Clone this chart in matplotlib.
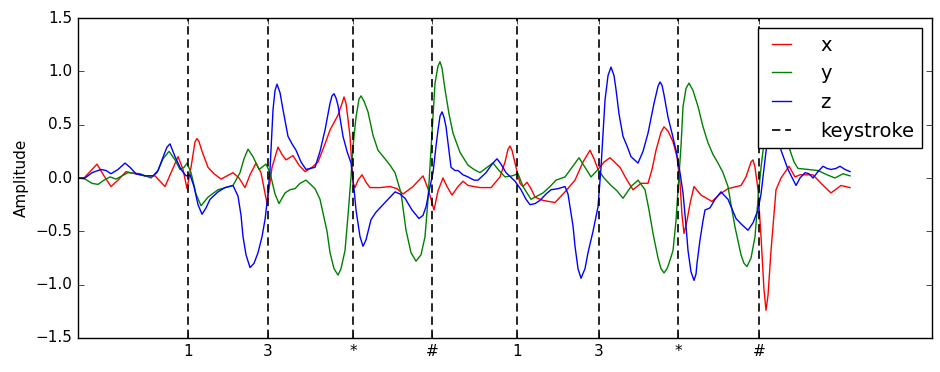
import numpy as np
import matplotlib
matplotlib.use('Agg')
import matplotlib.pyplot as plt

plt.style.use('classic')
plt.rcParams['font.size'] = 11

# sample index of each keystroke and the key that was pressed
key_times = [110, 190, 275, 354, 439, 521, 600, 681]
key_labels = ['1', '3', '*', '#', '1', '3', '*', '#']

# accelerometer traces, (sample index, amplitude)
x_pts = [(0, 0), (6, 0), (12, 0.06), (19, 0.13), (26, 0.02), (33, -0.08), (40, -0.02), (48, 0.06),
         (57, 0.04), (67, 0.02), (77, 0.02), (82, -0.03), (87, -0.08), (93, 0.05), (100, 0.2),
         (105, 0.08), (109, -0.1), (113, 0.1), (117, 0.34), (119, 0.37), (121, 0.34), (124, 0.25),
         (130, 0.1), (136, 0.04),
         (143, -0.01), (149, 0.02), (155, 0.05), (161, 0.0), (167, -0.09), (172, 0.03), (178, 0.14),
         (183, 0.05), (189, -0.24), (194, 0.1), (200, 0.29), (204, 0.22), (208, 0.17), (215, 0.21),
         (221, 0.12), (227, 0.06), (234, 0.1), (240, 0.15), (247, 0.32), (252, 0.45), (260, 0.59),
         (264, 0.7), (266, 0.76), (268, 0.7), (270, 0.55), (272, 0.39), (275, -0.05), (277, -0.09),
         (280, -0.02), (284, 0.03),
         (288, -0.04), (292, -0.09), (302, -0.09), (312, -0.08), (319, -0.1), (325, -0.15),
         (335, -0.08), (345, 0.02), (350, -0.1), (356, -0.3), (360, -0.12), (365, 0.0), (369, -0.08),
         (374, -0.16), (380, -0.08), (385, -0.03), (390, -0.07), (402, -0.09), (413, -0.09),
         (422, 0.01), (427, 0.15), (430, 0.27), (432, 0.3), (434, 0.26), (437, 0.14), (442, -0.05),
         (445, -0.08), (449, -0.04),
         (453, -0.1), (457, -0.18), (465, -0.21), (477, -0.23), (487, -0.13), (497, -0.02),
         (505, 0.15), (512, 0.26), (516, 0.18), (520, 0.08), (526, 0.15), (532, 0.19), (542, 0.1),
         (549, -0.02), (555, -0.11), (563, -0.05), (570, -0.05), (574, 0.08), (578, 0.26),
         (583, 0.43), (586, 0.48), (590, 0.44), (595, 0.34), (599, 0.2), (602, -0.05), (604, -0.35),
         (606, -0.52), (609, -0.4), (612, -0.24),
         (616, -0.08), (623, -0.16), (634, -0.22), (642, -0.15), (650, -0.1), (663, -0.07),
         (668, 0.01), (673, 0.15), (675, 0.17), (677, 0.1), (680, -0.11), (683, -0.55), (686, -1.05),
         (688, -1.24), (690, -1.1), (693, -0.68),
         (698, -0.11), (703, 0.0), (711, 0.11), (717, 0.01), (722, 0.03), (735, 0.03), (743, -0.05),
         (753, -0.14), (763, -0.07), (772, -0.09)]

y_pts = [(0, 0), (7, -0.01), (14, -0.05), (20, -0.06), (26, -0.02), (32, 0.01), (38, -0.01),
         (44, 0.02), (50, 0.05), (62, 0.04), (73, 0.0), (79, 0.05), (85, 0.18), (91, 0.25),
         (97, 0.17), (102, 0.08), (106, 0.1), (109, 0.14), (113, 0.05), (118, -0.15), (123, -0.26),
         (130, -0.18), (140, -0.11), (155, -0.07), (162, 0.05), (166, 0.18), (170, 0.27), (175, 0.2),
         (181, 0.08), (188, 0.13), (192, 0.05), (197, -0.15), (201, -0.24), (207, -0.14),
         (212, -0.11), (217, -0.1), (222, -0.05), (228, -0.02), (237, -0.1), (242, -0.2),
         (245, -0.33), (249, -0.5), (252, -0.7), (256, -0.85), (260, -0.91), (263, -0.85),
         (267, -0.68), (270, -0.35), (273, 0.01), (275, 0.3), (278, 0.57), (281, 0.74), (283, 0.77),
         (286, 0.72),
         (290, 0.62), (295, 0.4), (300, 0.26), (307, 0.18), (312, 0.12), (317, 0.05), (323, -0.14),
         (328, -0.49), (333, -0.7), (338, -0.78), (343, -0.72), (347, -0.55), (350, -0.2),
         (353, 0.26), (357, 0.89), (360, 1.05), (362, 1.09), (364, 1.03), (367, 0.83), (371, 0.6),
         (375, 0.42), (382, 0.24),
         (390, 0.12), (396, 0.08), (402, 0.05), (409, 0.1), (415, 0.14), (421, 0.07), (427, 0.01),
         (434, 0.02), (440, 0.04), (445, -0.08), (453, -0.2), (459, -0.17), (465, -0.14),
         (472, -0.08), (478, -0.02), (487, 0.01), (494, 0.1), (501, 0.19), (507, 0.1), (513, 0.01),
         (520, 0.08), (526, 0.0), (533, -0.07), (539, -0.12), (545, -0.19), (553, -0.08),
         (560, -0.02), (567, -0.11), (571, -0.3), (575, -0.52), (580, -0.75), (583, -0.85),
         (586, -0.89), (589, -0.85),
         (591, -0.8), (595, -0.68), (598, -0.4), (600, -0.11), (603, 0.3), (605, 0.67), (608, 0.84),
         (611, 0.89),
         (615, 0.82), (620, 0.67), (625, 0.48), (630, 0.33), (635, 0.22), (640, 0.14), (645, 0.05),
         (650, -0.08), (653, -0.25), (657, -0.46), (663, -0.72), (666, -0.8), (669, -0.83),
         (673, -0.75),
         (677, -0.55), (680, -0.2), (683, 0.1), (686, 0.33), (690, 0.6), (696, 0.8), (702, 0.65),
         (707, 0.45), (712, 0.26), (716, 0.15), (720, 0.09), (730, 0.08), (740, 0.07), (749, 0.03),
         (757, 0.0), (765, 0.04), (772, 0.02)]

z_pts = [(0, 0), (7, 0), (14, 0.05), (23, 0.08), (28, 0.07), (33, 0.04), (40, 0.08), (47, 0.14),
         (52, 0.1), (58, 0.04), (67, 0.02), (75, 0.02), (80, 0.07), (86, 0.22), (89, 0.29),
         (92, 0.32),
         (97, 0.2), (103, 0.08), (108, 0.02), (112, 0.03), (116, -0.08), (120, -0.25), (124, -0.34),
         (128, -0.28), (132, -0.2), (140, -0.13), (147, -0.09), (155, -0.07), (160, -0.17),
         (163, -0.35), (165, -0.55), (168, -0.72), (172, -0.84), (176, -0.8), (180, -0.7),
         (184, -0.55), (187, -0.39), (190, -0.15), (192, 0.08), (195, 0.64), (197, 0.82),
         (199, 0.88), (202, 0.8),
         (205, 0.64), (210, 0.39), (214, 0.32), (218, 0.26), (223, 0.15), (228, 0.08), (237, 0.1),
         (242, 0.25), (247, 0.45), (252, 0.7), (254, 0.77), (256, 0.79), (258, 0.75), (260, 0.68),
         (265, 0.39), (269, 0.25),
         (273, 0.14), (276, -0.1), (278, -0.3), (282, -0.55), (285, -0.64), (288, -0.58),
         (293, -0.39), (298, -0.32), (303, -0.27), (310, -0.2), (317, -0.13), (322, -0.15),
         (327, -0.19), (334, -0.3), (341, -0.38), (345, -0.35), (348, -0.27), (352, -0.08),
         (355, 0.05), (358, 0.3), (360, 0.45), (362, 0.58), (364, 0.62), (366, 0.57), (368, 0.48),
         (371, 0.25), (373, 0.1),
         (377, 0.07), (380, 0.07), (385, 0.03), (390, 0.01), (396, -0.02), (400, -0.02), (408, 0.05),
         (414, 0.13), (419, 0.18), (423, 0.13), (428, 0.05), (437, -0.03), (443, -0.11), (448, -0.2),
         (452, -0.25), (457, -0.24), (462, -0.21), (468, -0.15), (473, -0.11), (480, -0.1),
         (487, -0.08), (490, -0.15), (492, -0.27), (495, -0.45), (497, -0.64), (500, -0.85),
         (503, -0.94), (507, -0.85), (510, -0.7), (515, -0.5), (520, -0.27), (523, 0.1), (527, 0.73),
         (530, 0.96), (533, 1.04), (536, 0.96), (538, 0.83), (541, 0.6), (545, 0.39), (549, 0.3),
         (553, 0.2), (560, 0.14),
         (565, 0.25), (570, 0.42), (576, 0.7), (580, 0.86), (582, 0.9), (584, 0.87), (586, 0.78),
         (590, 0.57), (594, 0.42),
         (598, 0.26), (602, 0.05), (605, -0.14), (608, -0.45), (610, -0.68), (613, -0.88),
         (616, -0.96), (618, -0.9), (619, -0.8), (622, -0.58), (625, -0.4), (627, -0.3), (632, -0.28),
         (637, -0.2), (643, -0.13), (650, -0.2), (658, -0.38), (663, -0.43), (670, -0.49),
         (675, -0.42), (680, -0.3), (683, -0.15), (687, 0.17), (690, 0.4), (695, 0.72), (700, 0.55),
         (703, 0.26), (710, 0.08), (718, -0.07), (722, 0.0), (727, 0.05), (731, 0.04), (735, 0.0),
         (740, 0.06), (745, 0.11), (749, 0.09), (753, 0.08), (758, 0.09), (762, 0.11), (767, 0.08),
         (772, 0.06)]

fig = plt.figure(figsize=(9.4, 3.72), dpi=100, facecolor='white')
ax = fig.add_axes([0.083, 0.0914, 0.9085, 0.8602])

for pts, c, name in [(x_pts, 'r', 'x'), (y_pts, 'g', 'y'), (z_pts, 'b', 'z')]:
    t, v = zip(*pts)
    ax.plot(t, v, color=c, label=name, lw=1.0)
for i, k in enumerate(key_times):
    ax.axvline(k, color='k', linestyle='--', dashes=(6, 3.5), lw=1.2,
               label='keystroke' if i == 0 else None)

ax.set_xlim(0, 854)
ax.set_ylim(-1.5, 1.5)
ax.set_xticks(key_times)
ax.set_xticklabels(key_labels)
ax.set_ylabel('Amplitude')
ax.legend(loc='upper right', fontsize=14, handlelength=1.6, handletextpad=1.2)

plt.savefig('out.png', dpi=100, facecolor='white')
